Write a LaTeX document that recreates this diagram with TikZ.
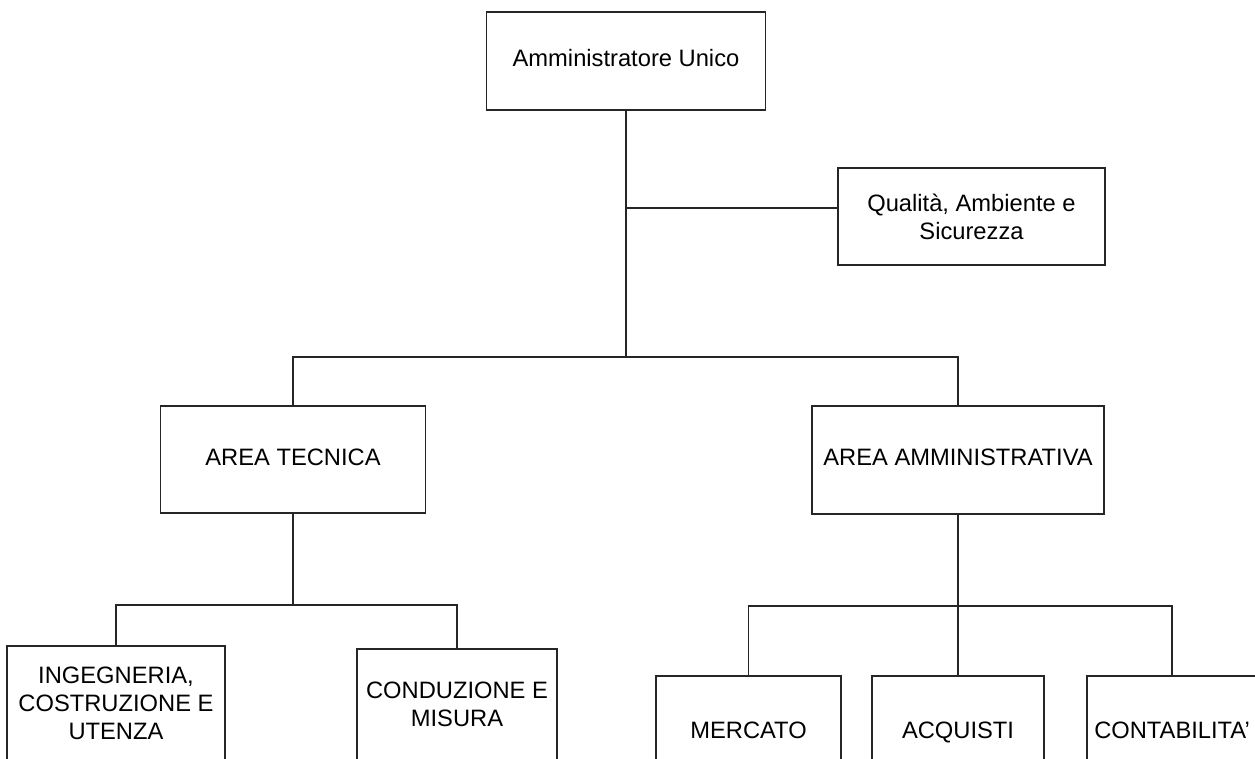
\documentclass[tikz,border=0pt]{standalone}
\usepackage{fontspec}
\setmainfont{Liberation Sans}
\begin{document}
\begin{tikzpicture}[x=0.02cm,y=-0.02cm,
  orgbox/.style={draw=black!85, line width=1.1pt, rectangle, inner sep=0pt, align=center, fill=white, font=\fontsize{13.5}{16}\selectfont},
  conn/.style={draw=black!85, line width=1.1pt}]
\useasboundingbox (0,0) rectangle (1255,758);
\fill[white] (0,0) rectangle (1255,758);
\clip (0,0) rectangle (1255,758);
% junctions
\coordinate (j1) at (626,357);
\coordinate (qj) at (626,208);
\coordinate (j2) at (293,605);
\coordinate (j3) at (958,606);
% nodes
\node[orgbox, minimum width=5.58cm, minimum height=1.96cm] (au) at (626,61) {\strut Amministratore Unico};
\node[orgbox, minimum width=5.34cm, minimum height=1.94cm] (qas) at (971.5,216.5) {Qualità, Ambiente e\\Sicurezza};
\node[orgbox, minimum width=5.3cm, minimum height=2.14cm] (at) at (293,459.5) {\strut AREA TECNICA};
\node[orgbox, minimum width=5.84cm, minimum height=2.16cm] (aa) at (958,460) {\strut AREA AMMINISTRATIVA};
\node[orgbox, minimum width=4.36cm, minimum height=2.28cm] (ing) at (116,703) {INGEGNERIA,\\COSTRUZIONE E\\UTENZA};
\node[orgbox, minimum width=4cm, minimum height=2.22cm] (cm) at (457,704.5) {CONDUZIONE E\\MISURA};
\node[orgbox, minimum width=3.7cm, minimum height=2.28cm] (mer) at (748.5,733) {\strut MERCATO};
\node[orgbox, minimum width=3.44cm, minimum height=2.28cm] (acq) at (958,733) {\strut ACQUISTI};
\node[orgbox, minimum width=3.4cm, minimum height=2.28cm] (con) at (1172,733) {\strut CONTABILITA'};
% connectors
\draw[conn] (au.south) -- (j1);
\draw[conn] (qj) -- (qj -| qas.west);
\draw[conn] (at.north) -- (at.north |- j1) -- (aa.north |- j1) -- (aa.north);
\draw[conn] (at.south) -- (j2);
\draw[conn] (ing.north) -- (ing.north |- j2) -- (cm.north |- j2) -- (cm.north);
\draw[conn] (aa.south) -- (acq.north);
\draw[conn] (mer.north) -- (mer.north |- j3) -- (con.north |- j3) -- (con.north);
\end{tikzpicture}
\end{document}
